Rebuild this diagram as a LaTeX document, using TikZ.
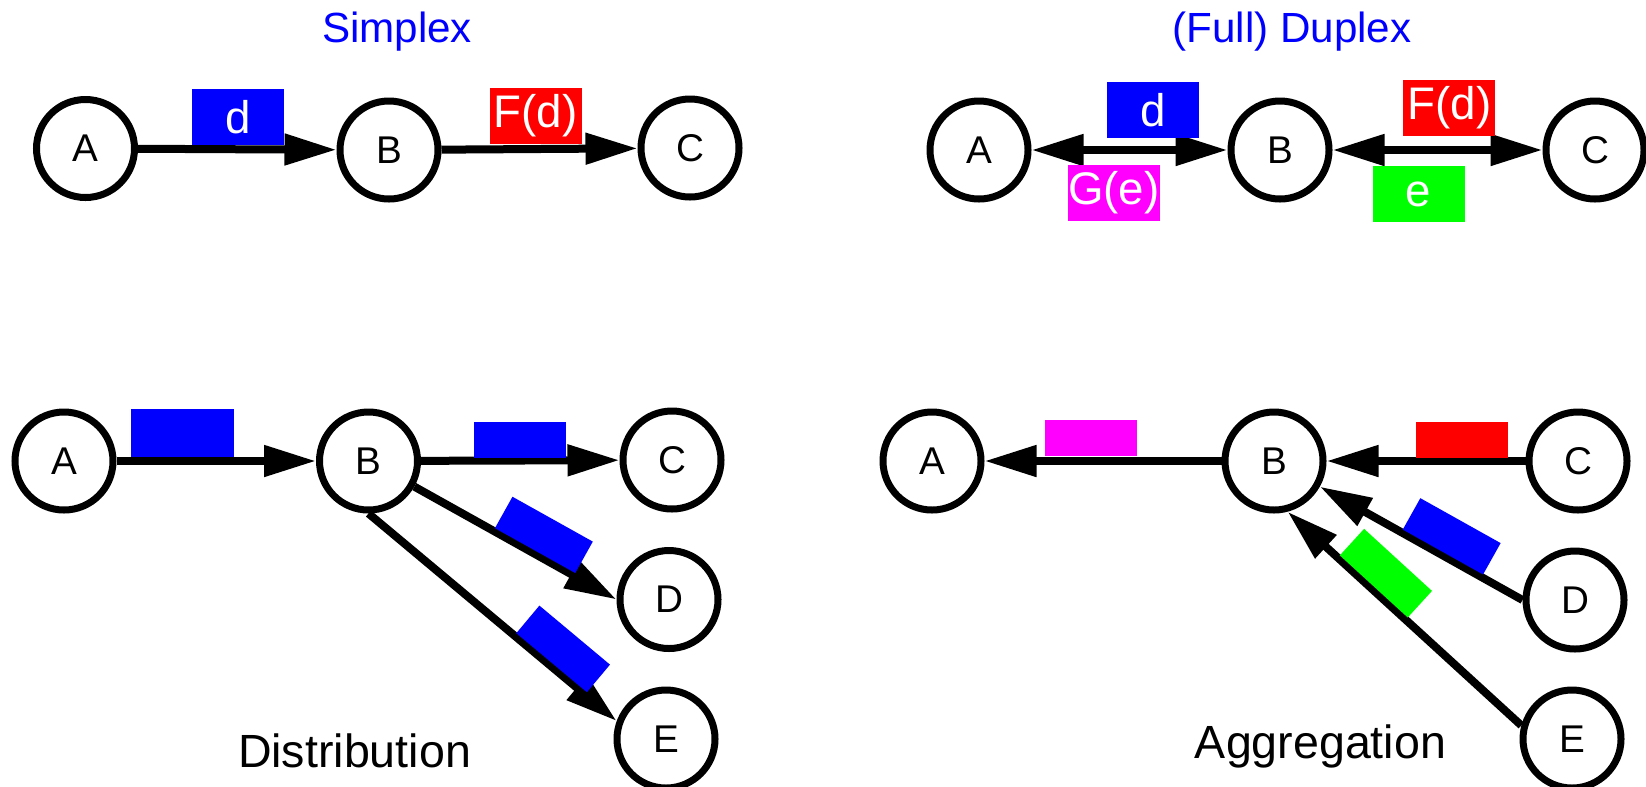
\documentclass[tikz,border=0pt]{standalone}
\usepackage{fontspec}
\setmainfont{Liberation Sans}
\usetikzlibrary{arrows.meta}

\begin{document}
\begin{tikzpicture}[
    station/.style={circle, draw=black, fill=white, minimum size=1.96cm,
        inner sep=0pt, line width=0.14cm, font=\fontsize{22}{26}\selectfont},
    packet/.style={rectangle, inner sep=0pt, outer sep=0pt, text=white,
        minimum width=1.84cm, minimum height=1.12cm,
        font=\fontsize{26}{30}\selectfont},
    slot/.style={packet, minimum height=0.72cm},
    link/.style={line width=0.16cm, draw=black},
    title/.style={anchor=base, font=\fontsize{24}{28}\selectfont},
    caption/.style={anchor=base, font=\fontsize{26.5}{30}\selectfont},
    >={Triangle[length=1.04cm, width=0.6cm]},
]
\definecolor{datacolor}{RGB}{0,0,255}
\definecolor{fcolor}{RGB}{255,0,0}
\definecolor{gcolor}{RGB}{255,0,255}
\definecolor{ecolor}{RGB}{0,255,0}
\useasboundingbox (0,0) rectangle (32.92,-15.72);
  % Simplex
  \node[title, text=datacolor] (l_simplex) at (7.94, -0.84) {Simplex};
  \node[station] (n_simplex_A) at (1.71, -2.97) {A};
  \node[station] (n_simplex_B) at (7.78, -3.0) {B};
  \node[station] (n_simplex_C) at (13.80, -2.96) {C};
  \draw[link, ->] (n_simplex_A) -- node[packet, fill=datacolor, pos=0.505, above=0.08cm] (k_simplex_d) {d} (n_simplex_B);
  \draw[link, ->] (n_simplex_B) -- node[packet, fill=fcolor, pos=0.48, above=0.1cm] (k_simplex_f) {F(d)} (n_simplex_C);
  % (Full) Duplex
  \node[title, text=datacolor] (l_duplex) at (25.84, -0.84) {(Full) Duplex};
  \node[station] (n_duplex_A) at (19.58, -3.0) {A};
  \node[station] (n_duplex_B) at (25.60, -3.0) {B};
  \node[station] (n_duplex_C) at (31.90, -3.0) {C};
  \draw[link, <->] (n_duplex_A) -- node[packet, fill=datacolor, pos=0.62, above=0.24cm] (k_duplex_d) {d}
    node[packet, fill=gcolor, pos=0.42, below=0.3cm] (k_duplex_g) {G(e)} (n_duplex_B);
  \draw[link, <->] (n_duplex_B) -- node[packet, fill=fcolor, pos=0.557, above=0.28cm] (k_duplex_f) {F(d)}
    node[packet, fill=ecolor, pos=0.41, below=0.32cm] (k_duplex_e) {e} (n_duplex_C);
  % Distribution
  \node[station] (n_dist_A) at (1.28, -9.22) {A};
  \node[station] (n_dist_B) at (7.37, -9.22) {B};
  \node[station] (n_dist_C) at (13.44, -9.20) {C};
  \node[station] (n_dist_D) at (13.38, -11.99) {D};
  \node[station] (n_dist_E) at (13.32, -14.78) {E};
  \draw[link, ->] (n_dist_A) -- node[packet, fill=datacolor, minimum width=2.06cm, minimum height=0.96cm, pos=0.33, above=0.08cm] (k_dist_ab) {} (n_dist_B);
  \draw[link, ->] (n_dist_B) -- node[slot, fill=datacolor, pos=0.5, above=0.06cm] (k_dist_bc) {} (n_dist_C);
  \draw[link, ->] (n_dist_B) -- node[slot, fill=datacolor, sloped, pos=0.59, above=0.06cm] (k_dist_bd) {} (n_dist_D.west);
  \draw[link, ->] (n_dist_B.south) -- node[slot, fill=datacolor, sloped, pos=0.73, above=0.06cm] (k_dist_be) {} (n_dist_E.160);
  \node[caption] (l_dist) at (7.09, -15.34) {Distribution};
  % Aggregation
  \node[station] (n_aggr_A) at (18.64, -9.22) {A};
  \node[station] (n_aggr_B) at (25.48, -9.22) {B};
  \node[station] (n_aggr_C) at (31.56, -9.22) {C};
  \node[station] (n_aggr_D) at (31.50, -12.0) {D};
  \node[station] (n_aggr_E) at (31.44, -14.78) {E};
  \draw[link, ->] (n_aggr_B) -- node[slot, fill=gcolor, pos=0.55, above=0.1cm] (k_aggr_ba) {} (n_aggr_A);
  \draw[link, ->] (n_aggr_C) -- node[slot, fill=fcolor, pos=0.32, above=0.06cm] (k_aggr_cb) {} (n_aggr_B);
  \draw[link, ->] (n_aggr_D.west) -- node[slot, fill=datacolor, sloped, pos=0.4, above=0.06cm] (k_aggr_db) {} (n_aggr_B);
  \draw[link, ->] (n_aggr_E.165) -- node[slot, fill=ecolor, sloped, pos=0.64, above=0.06cm] (k_aggr_eb) {} (n_aggr_B.-75);
  \node[caption] (l_aggr) at (26.41, -15.16) {Aggregation};
\end{tikzpicture}
\end{document}
